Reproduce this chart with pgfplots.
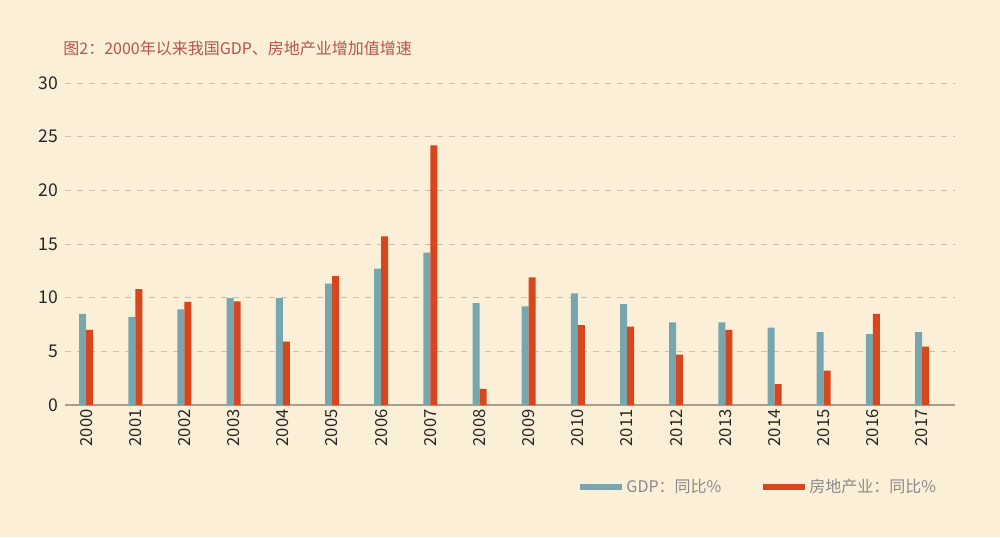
\documentclass[border=0pt]{standalone}
\usepackage{fontspec}
\setmainfont{Noto Sans CJK SC}
\usepackage{pgfplots}
\usepackage{pgfplotstable}
\pgfplotsset{compat=1.18}

\definecolor{bgc}{HTML}{FCEFD8}
\definecolor{gdpc}{HTML}{78A6AE}
\definecolor{rec}{HTML}{D8461E}
\definecolor{axc}{HTML}{A89E90}
\definecolor{gridc}{HTML}{C9C0B0}
\definecolor{titlec}{HTML}{B5534D}
\definecolor{legc}{HTML}{8A8A8A}

% 年份序号, GDP同比, 房地产业同比
\pgfplotstableread{
idx year gdp re
0  2000 8.5  7.0
1  2001 8.2  10.8
2  2002 8.9  9.6
3  2003 9.95 9.65
4  2004 9.95 5.9
5  2005 11.3 12.0
6  2006 12.7 15.7
7  2007 14.2 24.2
8  2008 9.5  1.5
9  2009 9.2  11.9
10 2010 10.4 7.45
11 2011 9.4  7.3
12 2012 7.7  4.7
13 2013 7.7  7.0
14 2014 7.2  1.95
15 2015 6.8  3.2
16 2016 6.6  8.5
17 2017 6.8  5.45
}\datatable

\begin{document}
\begin{tikzpicture}
\fill[bgc] (-32.5pt,-66pt) rectangle (467.5pt,202.5pt);
\begin{axis}[
    at={(0,0)}, anchor=south west,
    scale only axis,
    width=445pt, height=161pt,
    xmin=-0.43, xmax=17.67,
    ymin=0, ymax=30,
    axis lines=left,
    x axis line style={draw=axc, line width=1pt, -},
    y axis line style={draw=none},
    major tick length=0pt,
    xtick=data,
    xticklabels={2000,2001,2002,2003,2004,2005,2006,2007,2008,2009,2010,2011,2012,2013,2014,2015,2016,2017},
    xticklabel style={rotate=90, anchor=east, font=\fontsize{8.3}{9}\selectfont, text=black!85, inner sep=2pt},
    ytick={0,5,...,30},
    yticklabel style={font=\fontsize{8.8}{10}\selectfont, text=black!85},
    /pgf/number format/assume math mode=true,
    ymajorgrids=true,
    grid style={dashed, gridc, line width=0.4pt},
    title={图2：2000年以来我国GDP、房地产业增加值增速},
    title style={at={(axis description cs:0,1)}, anchor=west, yshift=11.5pt, xshift=-1pt, inner sep=0pt, text=titlec, font=\fontsize{8}{9}\selectfont},
    legend columns=2,
    legend style={at={(axis description cs:0.572,-0.2547)}, anchor=west, draw=none, fill=none,
        font=\fontsize{8}{9}\selectfont, text=legc,
        /tikz/every even column/.append style={column sep=19pt}},
]
\addplot[ybar, bar width=3.5pt, bar shift=-1.75pt, fill=gdpc, draw=none,
    legend image code/.code={\fill[gdpc] (0pt,-1.5pt) rectangle (21pt,1.5pt);}]
    table[x=idx, y=gdp] {\datatable};
\addlegendentry{GDP：同比\%}
\addplot[ybar, bar width=3.5pt, bar shift=1.75pt, fill=rec, draw=none,
    legend image code/.code={\fill[rec] (0pt,-1.5pt) rectangle (21pt,1.5pt);}]
    table[x=idx, y=re] {\datatable};
\addlegendentry{房地产业：同比\%}
\end{axis}
\pgfresetboundingbox
\path[use as bounding box] (-32.5pt,-66pt) rectangle (467.5pt,202.5pt);
\end{tikzpicture}
\end{document}
